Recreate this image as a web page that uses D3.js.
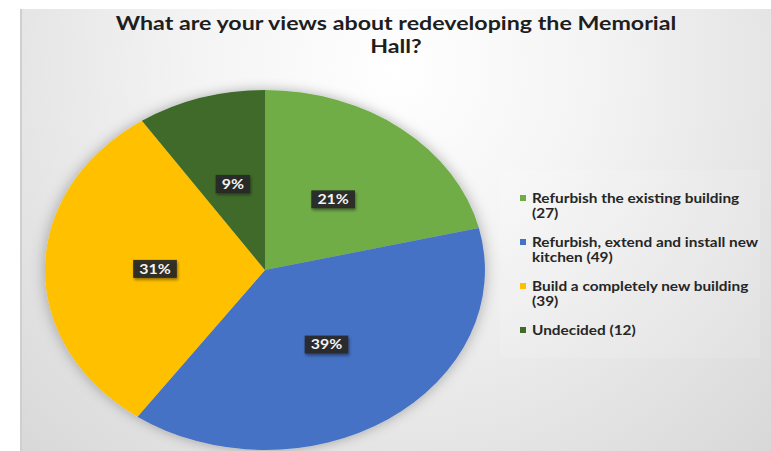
<!DOCTYPE html>
<html>
<head>
<meta charset="utf-8">
<script src="https://cdn.jsdelivr.net/npm/d3@7"></script>
<style>
  html, body { margin: 0; padding: 0; background: #ffffff; overflow: hidden; }
  svg { display: block; }
</style>
</head>
<body>
<svg id="chart" width="771" height="451"></svg>
<script>
// Survey question and answers
const titleLines = ["What are your views about redeveloping the Memorial", "Hall?"];
const categories = [
  "Refurbish the existing building",
  "Refurbish, extend and install new kitchen",
  "Build a completely new building",
  "Undecided"
];
const counts = [27, 49, 39, 12];
const colors = ["#70ad47", "#4472c4", "#ffc000", "#3f6a2a"];

const W = 771, H = 451;
const sx = 1.222;               // horizontal stretch of the whole chart
const cx = 265, cy = 270, R = 180;
const font = "Lato, 'Open Sans', 'DejaVu Sans', sans-serif";

const svg = d3.select("#chart");
const defs = svg.append("defs");

// soft grey chart background
const bg = defs.append("radialGradient")
  .attr("id", "bgGrad")
  .attr("gradientUnits", "userSpaceOnUse")
  .attr("cx", 395).attr("cy", 70).attr("r", 560);
bg.append("stop").attr("offset", 0).attr("stop-color", "#ffffff");
bg.append("stop").attr("offset", 0.35).attr("stop-color", "#f4f4f4");
bg.append("stop").attr("offset", 1).attr("stop-color", "#d6d6d6");

// outer glow under the pie
const glow = defs.append("filter").attr("id", "pieShadow")
  .attr("x", "-20%").attr("y", "-20%").attr("width", "140%").attr("height", "140%");
glow.append("feGaussianBlur").attr("in", "SourceAlpha").attr("stdDeviation", 6).attr("result", "b");
glow.append("feFlood").attr("flood-color", "#000").attr("flood-opacity", 0.3);
glow.append("feComposite").attr("in2", "b").attr("operator", "in").attr("result", "s");
const gm = glow.append("feMerge");
gm.append("feMergeNode").attr("in", "s");
gm.append("feMergeNode").attr("in", "SourceGraphic");

// shadow for the value boxes
const boxSh = defs.append("filter").attr("id", "boxShadow")
  .attr("x", "-30%").attr("y", "-40%").attr("width", "160%").attr("height", "180%");
boxSh.append("feGaussianBlur").attr("in", "SourceAlpha").attr("stdDeviation", 1.5).attr("result", "b");
boxSh.append("feOffset").attr("in", "b").attr("dx", 1).attr("dy", 1.5).attr("result", "o");
boxSh.append("feFlood").attr("flood-color", "#000").attr("flood-opacity", 0.45);
boxSh.append("feComposite").attr("in2", "o").attr("operator", "in").attr("result", "s");
const bm = boxSh.append("feMerge");
bm.append("feMergeNode").attr("in", "s");
bm.append("feMergeNode").attr("in", "SourceGraphic");

// frame: white margin, thin grey edge, then the chart area
svg.append("rect").attr("width", W).attr("height", H).attr("fill", "#ffffff");
svg.append("rect").attr("x", 20).attr("y", 9).attr("width", W - 20).attr("height", H - 9)
  .attr("fill", "url(#bgGrad)");
svg.append("rect").attr("x", 20).attr("y", 9).attr("width", 2).attr("height", H - 9)
  .attr("fill", "#cfcfcf");

// title
const title = svg.append("g").attr("transform", `translate(396,0) scale(${sx},1)`);
title.selectAll("text").data(titleLines).join("text")
  .attr("x", 0)
  .attr("y", (d, i) => 30 + i * 23)
  .attr("text-anchor", "middle")
  .attr("font-family", font)
  .attr("font-weight", "bold")
  .attr("font-size", 19)
  .attr("fill", "#1e1e1e")
  .text(d => d);

// pie
const total = d3.sum(counts);
const data = categories.map((c, i) => ({ name: c, value: counts[i], color: colors[i] }));
const pie = d3.pie().value(d => d.value).sort(null);
const arcs = pie(data);
const arc = d3.arc().innerRadius(0).outerRadius(R);

const pieG = svg.append("g")
  .attr("transform", `translate(${cx},${cy}) scale(${sx},1)`)
  .attr("filter", "url(#pieShadow)");
pieG.selectAll("path").data(arcs).join("path")
  .attr("d", arc)
  .attr("fill", d => d.data.color);

// value labels
const pct = d3.format(".0%");
const labels = svg.selectAll("g.lbl").data(arcs).join("g")
  .attr("class", "lbl")
  .attr("transform", d => {
    const c = arc.centroid(d);
    return `translate(${cx + c[0] * sx},${cy + c[1]}) scale(${sx},1)`;
  });
labels.each(function (d) {
  const g = d3.select(this);
  const t = g.append("text")
    .attr("text-anchor", "middle")
    .attr("dy", "0.36em")
    .attr("font-family", font)
    .attr("font-weight", "bold")
    .attr("font-size", 13)
    .attr("fill", "#f4f4f4")
    .text(pct(d.data.value / total));
  const w = t.node().getComputedTextLength() + 10;
  g.insert("rect", "text")
    .attr("x", -w / 2).attr("y", -9)
    .attr("width", w).attr("height", 18)
    .attr("fill", "#262626")
    .attr("fill-opacity", 0.92)
    .attr("filter", "url(#boxShadow)");
});

// legend
svg.append("rect").attr("x", 500).attr("y", 170).attr("width", 260).attr("height", 188)
  .attr("fill", "#ffffff").attr("fill-opacity", 0.12);

const legX = 520, textX = 532, wrapW = 232, lineH = 15;
let y = 198;
data.forEach(d => {
  const words = (d.name + " (" + d.value + ")").split(" ");
  const g = svg.append("g").attr("transform", `translate(${textX},0) scale(${sx},1)`);
  const t = g.append("text")
    .attr("font-family", font)
    .attr("font-weight", "bold")
    .attr("font-size", 12.6)
    .attr("fill", "#262626");
  let lines = [[]];
  const probe = t.append("tspan");
  words.forEach(w => {
    const cur = lines[lines.length - 1];
    probe.text(cur.concat([w]).join(" "));
    if (cur.length && probe.node().getComputedTextLength() * sx > wrapW) lines.push([w]);
    else cur.push(w);
  });
  probe.remove();
  lines.forEach((ln, i) => {
    t.append("tspan").attr("x", 0).attr("y", y + i * lineH).attr("dy", "0.36em").text(ln.join(" "));
  });
  svg.append("rect").attr("x", legX).attr("y", y - 3).attr("width", 6).attr("height", 6)
    .attr("fill", d.color);
  y += lines.length * lineH + 14;
});
</script>
</body>
</html>
